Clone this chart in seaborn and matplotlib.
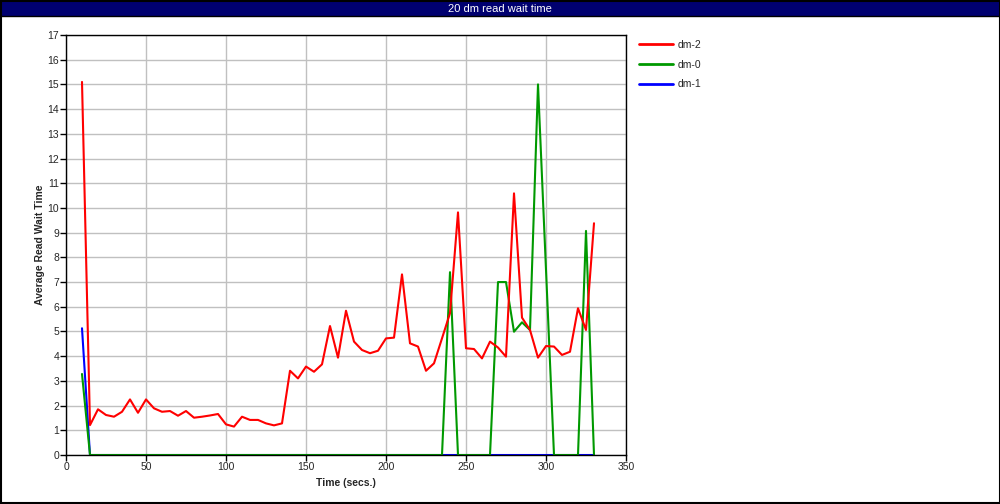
import pandas as pd
import seaborn as sns
import matplotlib.pyplot as plt
import numpy as np

# time axis (secs), one sample every 5 seconds
time_secs = list(range(10, 335, 5))

# average read wait time per device
dm2_wait = [15.1, 1.21, 1.85, 1.62, 1.55, 1.75, 2.25, 1.71, 2.25, 1.89,
            1.75, 1.78, 1.59, 1.78, 1.51, 1.55, 1.6, 1.66, 1.24, 1.15,
            1.55, 1.42, 1.42, 1.28, 1.2, 1.28, 3.41, 3.1, 3.58, 3.37,
            3.67, 5.22, 3.94, 5.84, 4.59, 4.25, 4.12, 4.22, 4.72, 4.75,
            7.31, 4.52, 4.39, 3.41, 3.71, 4.72, 5.74, 9.82, 4.32, 4.29,
            3.91, 4.59, 4.35, 3.98, 10.59, 5.56, 5.06, 3.94, 4.41, 4.39,
            4.05, 4.18, 5.94, 5.06, 9.38]
dm0_wait = [3.28] + [0] * 45 + [7.4, 0, 0, 0, 0, 0, 7.0, 7.0, 4.99, 5.37,
                               5.06, 15.0, 7.5, 0, 0, 0, 0, 9.07, 0]
dm1_wait = [5.13] + [0] * 64

devices = ['dm-2', 'dm-0', 'dm-1']
colors = {'dm-2': '#ff0000', 'dm-0': '#009900', 'dm-1': '#0000ff'}

# long format for seaborn
df = pd.concat([
    pd.DataFrame({'time': time_secs, 'wait': dm2_wait, 'device': 'dm-2'}),
    pd.DataFrame({'time': time_secs, 'wait': dm0_wait, 'device': 'dm-0'}),
    pd.DataFrame({'time': time_secs, 'wait': dm1_wait, 'device': 'dm-1'}),
], ignore_index=True)

sns.set_style('white')
plt.rcParams['font.family'] = ['Liberation Sans', 'DejaVu Sans']

fig = plt.figure(figsize=(10, 5.04), dpi=100)
ax = fig.add_axes([0.066, 0.0972, 0.56, 0.8334])

# draw blue first, red last (red ends up on top)
sns.lineplot(data=df, x='time', y='wait', hue='device',
             hue_order=devices[::-1], palette=colors, linewidth=1.5,
             ax=ax, legend=False)

ax.set_xlim(0, 350)
ax.set_ylim(0, 17)
ax.set_xticks(np.arange(0, 351, 50))
ax.set_yticks(np.arange(0, 18, 1))
ax.grid(True, color='#c0c0c0', linewidth=1)
ax.set_axisbelow(True)
for s in ax.spines.values():
    s.set_color('black')
    s.set_linewidth(1)
ax.tick_params(axis='both', direction='out', length=4, width=1,
               color='black', labelsize=7.5, pad=1, bottom=True, left=True)

ax.set_xlabel('Time (secs.)', fontsize=7.5, fontweight='bold', labelpad=4)
ax.set_ylabel('Average Read Wait Time', fontsize=7.5, fontweight='bold', labelpad=2)

# legend to the right of the plot, in legend order
handles = [plt.Line2D([], [], color=colors[d], linewidth=2) for d in devices]
fig.legend(handles, devices, loc='upper left', bbox_to_anchor=(0.63, 0.94),
           frameon=False, fontsize=7.5, handlelength=3.2, labelspacing=0.95,
           handletextpad=0.5)

# navy title bar and outer border
fig.patches.append(plt.Rectangle((0, 1 - 16 / 504), 1, 16 / 504,
                                 transform=fig.transFigure, facecolor='#000070',
                                 edgecolor='black', linewidth=1, zorder=0))
fig.text(0.5, 1 - 8.5 / 504, '20 dm read wait time', color='white',
         ha='center', va='center', fontsize=8)
fig.patches.append(plt.Rectangle((0.0005, 0.001), 0.999, 0.998,
                                 transform=fig.transFigure, fill=False,
                                 edgecolor='black', linewidth=1.5, zorder=5))

fig.savefig('out.png', dpi=100)
